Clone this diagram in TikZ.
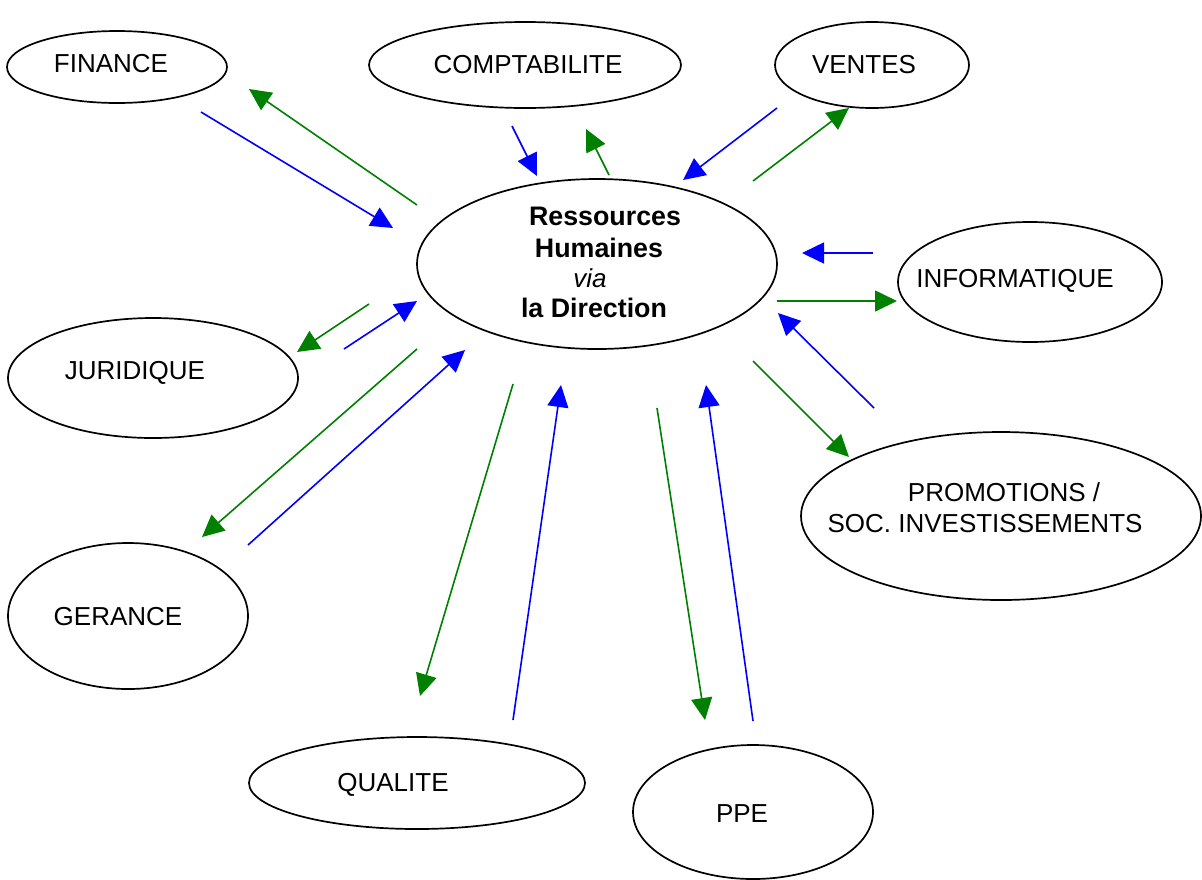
\documentclass[tikz,border=0pt]{standalone}
\usepackage{fontspec}
\setmainfont{Liberation Sans}
\usetikzlibrary{shapes.geometric,arrows.meta}
\definecolor{arrblue}{RGB}{0,0,255}
\definecolor{arrgreen}{RGB}{0,128,0}
\tikzset{
  oval/.style={draw=black, line width=0.85pt, ellipse, inner sep=0pt},
  lbl/.style={font=\fontsize{13}{15}\selectfont, anchor=base, inner sep=0pt},
  bold/.style={lbl, font=\fontsize{13.4}{15}\selectfont\bfseries},
  conn/.style={line width=0.8pt, -{Triangle[length=11pt,width=10.5pt]}},
  toc/.style={conn, draw=arrblue, fill=arrblue},
  fromc/.style={conn, draw=arrgreen, fill=arrgreen}
}
\begin{document}
\begin{tikzpicture}[x=0.5pt,y=-0.5pt]
\useasboundingbox (0,0) rectangle (1202,879);
% ellipses
\node[oval, minimum width=110pt, minimum height=36pt] (fin) at (117,67) {};
\node[oval, minimum width=156pt, minimum height=43pt] (cpt) at (525,65) {};
\node[oval, minimum width=97pt, minimum height=43pt] (ven) at (872,65) {};
\node[oval, minimum width=180pt, minimum height=85pt] (rh) at (597,264) {};
\node[oval, minimum width=132pt, minimum height=60pt] (inf) at (1030,282) {};
\node[oval, minimum width=145pt, minimum height=60pt] (jur) at (153,378) {};
\node[oval, minimum width=200pt, minimum height=84pt] (pro) at (1001,516) {};
\node[oval, minimum width=120pt, minimum height=73pt] (ger) at (128,616) {};
\node[oval, minimum width=168pt, minimum height=46pt] (qua) at (417,783) {};
\node[oval, minimum width=120pt, minimum height=67pt] (ppe) at (753,812) {};
% labels
\node[lbl] (tfin) at (111,72) {FINANCE};
\node[lbl] (tcpt) at (528,73) {COMPTABILITE};
\node[lbl] (tven) at (864,73) {VENTES};
\node[lbl] (tinf) at (1015,287) {INFORMATIQUE};
\node[lbl] (tjur) at (135,379) {JURIDIQUE};
\node[lbl] (tpro1) at (1004,501) {PROMOTIONS /};
\node[lbl] (tpro2) at (985,532) {SOC. INVESTISSEMENTS};
\node[lbl] (tger) at (118,625) {GERANCE};
\node[lbl] (tqua) at (393,791) {QUALITE};
\node[lbl] (tppe) at (742,822) {PPE};
\node[bold] (trh1) at (605,225) {Ressources};
\node[bold] (trh2) at (599,257) {Humaines};
\node[lbl, font=\fontsize{13}{15}\selectfont\itshape] (trh3) at (590,287) {via};
\node[bold] (trh4) at (594,317) {la Direction};
% arrow end points
\coordinate (b1s) at (201,112); \coordinate (b1e) at (393,228);
\coordinate (g1s) at (417,205); \coordinate (g1e) at (249,89);
\coordinate (b2s) at (512,126); \coordinate (b2e) at (537,176);
\coordinate (g2s) at (609,175); \coordinate (g2e) at (586,129);
\coordinate (b3s) at (777,108); \coordinate (b3e) at (683,180);
\coordinate (g3s) at (753,181); \coordinate (g3e) at (849,108);
\coordinate (b4s) at (873,253); \coordinate (b4e) at (802,253);
\coordinate (g4s) at (777,301); \coordinate (g4e) at (897,301);
\coordinate (b5s) at (874,408); \coordinate (b5e) at (778,313);
\coordinate (g5s) at (753,361); \coordinate (g5e) at (849,457);
\coordinate (b6s) at (753,721); \coordinate (b6e) at (706,385);
\coordinate (g6s) at (657,408); \coordinate (g6e) at (705,720);
\coordinate (b7s) at (513,720); \coordinate (b7e) at (561,385);
\coordinate (g7s) at (513,384); \coordinate (g7e) at (420,696);
\coordinate (b8s) at (248,545); \coordinate (b8e) at (465,350);
\coordinate (g8s) at (417,349); \coordinate (g8e) at (202,537);
\coordinate (b9s) at (344,349); \coordinate (b9e) at (417,301);
\coordinate (g9s) at (369,304); \coordinate (g9e) at (297,352);
% arrows
\foreach \i in {1,...,9}{
  \draw[toc] (b\i s) -- (b\i e);
  \draw[fromc] (g\i s) -- (g\i e);
}
\end{tikzpicture}
\end{document}
